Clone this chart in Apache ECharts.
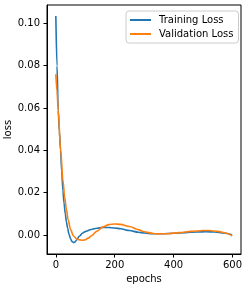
<!DOCTYPE html>
<html>
<head>
<meta charset="utf-8">
<script src="https://cdn.jsdelivr.net/npm/echarts@6/dist/echarts.min.js"></script>
<style>
html,body{margin:0;padding:0;background:#fff;}
#c{width:251px;height:289px;}
</style>
</head>
<body>
<div id="c"></div>
<script>
const seriesNames = ['Training Loss', 'Validation Loss'];
const trainEpochs = [0, 4, 8, 12, 16, 20, 24, 28, 32, 36, 40, 45, 50, 55, 60, 65, 70, 80, 90, 100, 120, 140, 160, 180, 200, 220, 250, 280, 300, 330, 360, 400, 440, 480, 510, 540, 570, 599];
const trainLoss = [0.1035, 0.080, 0.059, 0.049, 0.040, 0.030, 0.021, 0.015, 0.0100, 0.0062, 0.0032, 0.0003, -0.0018, -0.0031, -0.0036, -0.0033, -0.0025, -0.0006, 0.0008, 0.0016, 0.0026, 0.0032, 0.0035, 0.0035, 0.0033, 0.0029, 0.0021, 0.0013, 0.0009, 0.0006, 0.0006, 0.0008, 0.0011, 0.0014, 0.0015, 0.0014, 0.0009, 0.0000];
const valEpochs = [0, 4, 8, 16, 24, 30, 36, 42, 50, 60, 70, 80, 90, 100, 110, 120, 140, 160, 180, 200, 220, 250, 280, 300, 330, 350, 380, 420, 460, 500, 520, 550, 580, 599];
const valLoss = [0.076, 0.068, 0.059, 0.041, 0.026, 0.018, 0.012, 0.007, 0.0025, -0.0005, -0.0018, -0.0023, -0.0025, -0.0023, -0.0015, -0.0005, 0.0018, 0.0038, 0.0049, 0.0052, 0.0050, 0.0040, 0.0025, 0.0015, 0.0007, 0.0005, 0.0006, 0.0011, 0.0017, 0.0021, 0.0021, 0.0017, 0.0008, -0.0004];
const xTicks = [0, 200, 400, 600];
const yTicks = [0.00, 0.02, 0.04, 0.06, 0.08, 0.10];
const xLabel = 'epochs';
const yLabel = 'loss';

const font = 'DejaVu Sans';
const chart = echarts.init(document.getElementById('c'), null, {renderer: 'canvas'});
const pairs = (xs, ys) => xs.map((x, i) => [x, ys[i]]);
chart.setOption({
  animation: false,
  backgroundColor: '#fff',
  grid: {left: 47, right: 10, top: 5, bottom: 35, show: true, borderColor: '#000', borderWidth: 1, containLabel: false, outerBoundsMode: 'none'},
  legend: {
    orient: 'vertical', left: 126, top: 11,
    data: seriesNames,
    icon: 'rect', itemWidth: 21, itemHeight: 2, itemGap: 4,
    padding: [4, 5, 4, 4],
    borderColor: '#ccc', borderWidth: 1, borderRadius: 3,
    backgroundColor: 'rgba(255,255,255,0.8)',
    textStyle: {fontFamily: font, fontSize: 10, color: '#000', padding: [0, 0, 0, 3]}
  },
  xAxis: {
    type: 'value', min: -30, max: 629,
    name: xLabel, nameLocation: 'middle', nameGap: 20, nameMoveOverlap: false,
    nameTextStyle: {fontFamily: font, fontSize: 10, color: '#000'},
    splitLine: {show: false},
    axisLine: {show: true, onZero: false, lineStyle: {color: '#000', width: 1}},
    axisTick: {show: true, inside: false, length: 3.5, lineStyle: {color: '#000'}, customValues: xTicks},
    axisLabel: {fontFamily: font, fontSize: 10, color: '#000', margin: 6, customValues: xTicks, formatter: v => String(v)}
  },
  yAxis: {
    type: 'value', min: -0.009, max: 0.1087,
    name: yLabel, nameLocation: 'middle', nameGap: 34, nameRotate: 90, nameMoveOverlap: false,
    nameTextStyle: {fontFamily: font, fontSize: 10, color: '#000'},
    splitLine: {show: false},
    axisLine: {show: true, onZero: false, lineStyle: {color: '#000', width: 1}},
    axisTick: {show: true, inside: false, length: 3.5, lineStyle: {color: '#000'}, customValues: yTicks},
    axisLabel: {fontFamily: font, fontSize: 10, color: '#000', margin: 7, customValues: yTicks, formatter: v => v.toFixed(2)}
  },
  series: [
    {name: seriesNames[0], type: 'line', data: pairs(trainEpochs, trainLoss), showSymbol: false, smooth: 0.3, smoothMonotone: 'x',
     lineStyle: {color: '#1f77b4', width: 1.6}, itemStyle: {color: '#1f77b4'}},
    {name: seriesNames[1], type: 'line', data: pairs(valEpochs, valLoss), showSymbol: false, smooth: 0.3, smoothMonotone: 'x',
     lineStyle: {color: '#ff7f0e', width: 1.6}, itemStyle: {color: '#ff7f0e'}}
  ]
});
</script>
</body>
</html>
